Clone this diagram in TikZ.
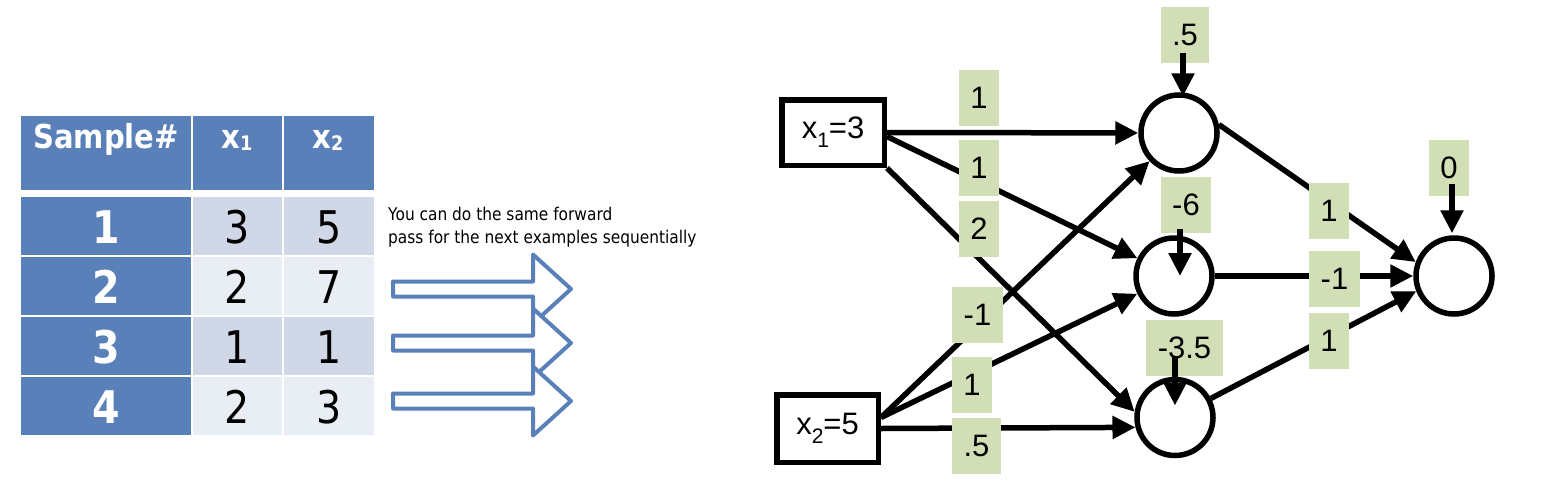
\documentclass[tikz,border=0pt]{standalone}
\usepackage{fontspec}
\setmainfont{Liberation Sans}
\newfontfamily\tah[FakeStretch=0.88]{DejaVu Sans}
\usetikzlibrary{arrows.meta,calc}
\definecolor{tblue}{HTML}{5A80B9}
\definecolor{tlight}{HTML}{D0D8E8}
\definecolor{tpale}{HTML}{E9EDF4}
\definecolor{lgreen}{HTML}{D1DEB6}
\definecolor{ablue}{HTML}{5A80B9}
\newcommand{\fsz}[1]{\fontsize{#1}{#1}\selectfont}
\newcommand{\blockarr}[1]{%
  \draw[blockarrow] (393,{#1-7.5}) -- (533,{#1-7.5}) -- (533,{#1-34.5}) -- (571,#1)
    -- (533,{#1+34.5}) -- (533,{#1+7.5}) -- (393,{#1+7.5}) -- cycle;}
\begin{document}
\begin{tikzpicture}[x=1pt,y=-1pt,
  hdr/.style={text=white,font=\tah\bfseries\fsz{33},anchor=base,inner sep=0},
  rowlab/.style={text=white,font=\tah\bfseries\fsz{45},anchor=base,inner sep=0},
  val/.style={text=black,font=\tah\fsz{45},anchor=base,inner sep=0},
  expl/.style={font=\tah\fsz{17.5},anchor=base west,inner sep=0},
  blockarrow/.style={draw=ablue,line width=4,fill=white,line join=round},
  inbox/.style={draw,line width=5.5,inner sep=0,fill=white,font=\fsz{31}},
  neuron/.style={circle,draw,line width=5.5,minimum size=76,inner sep=0,fill=white},
  conn/.style={line width=5.5,-{Triangle[length=23pt,width=22pt]}},
  wlab/.style={fill=lgreen,minimum height=56,minimum width=40,inner xsep=11.5,inner ysep=0,font=\fsz{31}}
]
\useasboundingbox (0,0) rectangle (1562,490);
% ---- table ----
\fill[tblue] (21,116) rectangle (191,190);
\fill[tblue] (193,116) rectangle (282,190);
\fill[tblue] (284,116) rectangle (374,190);
\foreach \t/\b/\c in {197/255/tlight,257/315/tpale,317/375/tlight,377/435/tpale}{
  \fill[tblue] (21,\t) rectangle (191,\b);
  \fill[\c] (193,\t) rectangle (282,\b);
  \fill[\c] (284,\t) rectangle (374,\b);
}
\node[hdr] (hs) at (106,148) {Sample\#};
\node[hdr] (hx1) at (237,148) {x\raisebox{-2pt}{\fsz{20}1}};
\node[hdr] (hx2) at (328,148) {x\raisebox{-2pt}{\fsz{20}2}};
\node[rowlab] (r1) at (106,243) {1};
\node[rowlab] (r2) at (106,303) {2};
\node[rowlab] (r3) at (106,363) {3};
\node[rowlab] (r4) at (106,423) {4};
\node[val] (a1) at (237.5,243) {3};
\node[val] (c1) at (329,243) {5};
\node[val] (a2) at (237.5,303) {2};
\node[val] (c2) at (329,303) {7};
\node[val] (a3) at (237.5,363) {1};
\node[val] (c3) at (329,363) {1};
\node[val] (a4) at (237.5,423) {2};
\node[val] (c4) at (329,423) {3};
% ---- note and block arrows ----
\node[expl] (e1) at (388,220) {You can do the same forward};
\node[expl] (e2) at (388,243) {pass for the next examples sequentially};
\blockarr{289}
\blockarr{343}
\blockarr{401}
% ---- network ----
\node[inbox,minimum width=102.5,minimum height=65.5] (x1) at (833,132.5) {x\raisebox{-9pt}{\fsz{21}1}=3};
\node[inbox,minimum width=101.5,minimum height=67.5] (x2) at (827.5,428.5) {x\raisebox{-9pt}{\fsz{21}2}=5};
\node[neuron] (h1) at (1179,133) {};
\node[neuron] (h2) at (1174,276) {};
\node[neuron] (h3) at (1175,417.5) {};
\node[neuron] (o) at (1454,276) {};
\draw[conn] (x1.east) -- (h1);
\draw[conn] ($(x1.east)+(0,4)$) -- (h2);
\draw[conn] (x1.south east) -- (h3.172);
\draw[conn] ($(x2.east)+(0,-11)$) -- (h1);
\draw[conn] ($(x2.east)+(0,-11)$) -- (h2);
\draw[conn] (x2.east) -- (h3.194);
\draw[conn] (h1.12) -- (o.160);
\draw[conn] (h2) -- (o);
\draw[conn] (h3.28) -- (o.202);
\node[wlab] (w11) at (979,98) {1};
\node[wlab] (w12) at (979,167.5) {1};
\node[wlab] (w13) at (979,228.5) {2};
\node[wlab] (w21) at (977.5,315) {-1};
\node[wlab] (w22) at (972,385) {1};
\node[wlab] (w23) at (976.5,446) {.5};
\node[wlab] (v1) at (1329,210.5) {1};
\node[wlab] (v2) at (1334.5,279) {-1};
\node[wlab] (v3) at (1329,341) {1};
\node[wlab] (b1) at (1185,34.5) {.5};
\node[wlab] (b2) at (1186,205) {-6};
\node[wlab] (b3) at (1184.5,347.5) {-3.5};
\node[wlab] (b0) at (1449,167.5) {0};
\draw[conn] ($(b1.south)+(-2,-10)$) -- ($(b1.south |- h1.north)+(-2,4)$);
\draw[conn] ($(b2.south)+(-6,-4)$) -- ($(b2.south |- h2.center)+(-6,0)$);
\draw[conn] ($(b3.south -| h3.center)+(0,-19)$) -- ($(h3.center)+(0,-12)$);
\draw[conn] ($(b0.south)+(3,-12)$) -- ($(b0.south |- o.north)+(3,-2)$);
\end{tikzpicture}
\end{document}
